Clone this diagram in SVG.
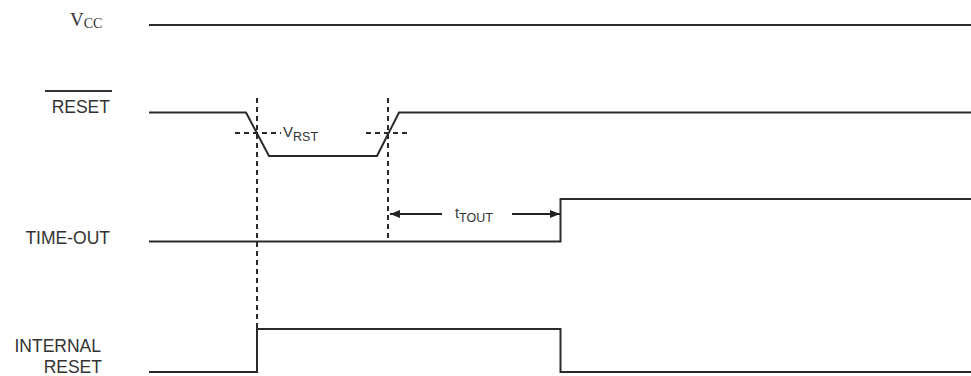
<svg xmlns="http://www.w3.org/2000/svg" width="971" height="376" viewBox="0 0 971 376">
<defs>
<style>
.sig{fill:none;stroke:#2a2a2a;stroke-width:2;stroke-linejoin:miter}
.dash{fill:none;stroke:#2a2a2a;stroke-width:2;stroke-dasharray:5 4}
.lbl{font-family:"Liberation Sans",Arial,sans-serif;font-size:17.5px;fill:#333}
.ser{font-family:"Liberation Serif","Times New Roman",serif;fill:#333}
.sm{font-family:"Liberation Sans",Arial,sans-serif;fill:#333}
.arr{fill:none;stroke:#222;stroke-width:2}
</style>
<marker id="ah" viewBox="0 0 10 8" refX="10" refY="4" markerWidth="10" markerHeight="8" markerUnits="userSpaceOnUse" orient="auto">
<path d="M0,0 L10,4 L0,8 Z" fill="#222"/>
</marker>
</defs>
<rect width="971" height="376" fill="#fff"/>
<g id="labels">
<g id="vcc-label"><text class="ser" x="70" y="26" font-size="19">V<tspan font-size="14" dy="2">CC</tspan></text></g>
<g id="reset-label"><text class="lbl" x="110" y="113" text-anchor="end">RESET</text><line x1="45" y1="91" x2="112" y2="91" stroke="#333" stroke-width="2"/></g>
<g id="timeout-label"><text class="lbl" x="110" y="244" text-anchor="end">TIME-OUT</text></g>
<g id="intreset-label"><text class="lbl" x="101" y="352" text-anchor="end">INTERNAL</text><text class="lbl" x="102" y="373" text-anchor="end">RESET</text></g>
</g>
<g id="signals">
<g id="vcc"><line class="sig" x1="149" y1="25" x2="971" y2="25"/></g>
<g id="reset"><polyline class="sig" points="149,112.5 246,112.5 269,156 377,156 399,112.5 971,112.5"/></g>
<g id="timeout"><polyline class="sig" points="149,241.5 560.5,241.5 560.5,199 971,199"/></g>
<g id="intreset"><polyline class="sig" points="149,372 257,372 257,329 560.5,329 560.5,372 971,372"/></g>
</g>
<g id="connectors">
<line class="dash" x1="257" y1="98" x2="257" y2="329"/>
<line class="dash" x1="388" y1="98" x2="388" y2="241"/>
<line class="dash" x1="235" y1="133" x2="281" y2="133"/>
<line class="dash" x1="366" y1="133" x2="411" y2="133"/>
<line class="arr" x1="442" y1="214" x2="390" y2="214" marker-end="url(#ah)"/>
<line class="arr" x1="512" y1="214" x2="560" y2="214" marker-end="url(#ah)"/>
</g>
<g id="annotations">
<text class="sm" x="283" y="137" font-size="15">V<tspan font-size="12.5" dy="4">RST</tspan></text>
<text class="sm" x="455" y="218" font-size="14.5">t<tspan font-size="12.5" dy="4">TOUT</tspan></text>
</g>
</svg>
